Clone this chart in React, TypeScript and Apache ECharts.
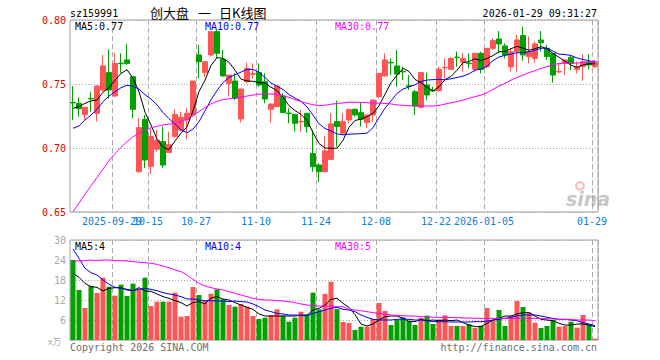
import { useEffect, useRef } from "react";
import * as echarts from "echarts";

const dates = [
  "2025-09-18","2025-09-19","2025-09-22","2025-09-23","2025-09-24","2025-09-25","2025-09-26","2025-09-29","2025-09-30",
  "2025-10-09","2025-10-10","2025-10-13","2025-10-14","2025-10-15","2025-10-16","2025-10-17","2025-10-20","2025-10-21","2025-10-22","2025-10-23","2025-10-24","2025-10-27","2025-10-28","2025-10-29","2025-10-30","2025-10-31",
  "2025-11-03","2025-11-04","2025-11-05","2025-11-06","2025-11-07","2025-11-10","2025-11-11","2025-11-12","2025-11-13","2025-11-14","2025-11-17","2025-11-18","2025-11-19","2025-11-20","2025-11-21","2025-11-24","2025-11-25","2025-11-26","2025-11-27","2025-11-28",
  "2025-12-01","2025-12-02","2025-12-03","2025-12-04","2025-12-05","2025-12-08","2025-12-09","2025-12-10","2025-12-11","2025-12-12","2025-12-15","2025-12-16","2025-12-17","2025-12-18","2025-12-19","2025-12-22","2025-12-23","2025-12-24","2025-12-25","2025-12-26","2025-12-29","2025-12-30","2025-12-31",
  "2026-01-05","2026-01-06","2026-01-07","2026-01-08","2026-01-09","2026-01-12","2026-01-13","2026-01-14","2026-01-15","2026-01-16","2026-01-19","2026-01-20","2026-01-21","2026-01-22","2026-01-23","2026-01-26","2026-01-27","2026-01-28","2026-01-29",
];

const opens = [
  0.7356,0.7349,0.7260,0.7387,0.7271,0.7453,0.7589,0.7406,0.7663,0.7688,
  0.7557,0.6815,0.7224,0.6857,0.6990,0.7050,0.6965,0.7089,0.7140,0.7219,
  0.7258,0.7727,0.7589,0.7727,0.7909,0.7693,0.7505,0.7523,0.7227,0.7518,
  0.7576,0.7589,0.7518,0.7302,0.7323,0.7406,0.7273,0.7263,0.7204,0.7271,
  0.6958,0.6867,0.6815,0.6911,0.7206,0.7115,0.7219,0.7302,0.7276,0.7198,
  0.7258,0.7401,0.7563,0.7669,0.7641,0.7598,0.7486,0.7440,0.7318,0.7492,
  0.7450,0.7448,0.7626,0.7615,0.7710,0.7667,0.7663,0.7615,0.7740,0.7635,
  0.7779,0.7852,0.7797,0.7635,0.7753,0.7878,0.7714,0.7700,0.7844,0.7779,
  0.7740,0.7594,0.7667,0.7708,0.7615,0.7635,0.7674,0.7635,
];
const closes = [
  0.7352,0.7307,0.7318,0.7383,0.7484,0.7641,0.7453,0.7661,0.7659,0.7661,
  0.7302,0.7159,0.6906,0.7090,0.7060,0.6867,0.7026,0.7263,0.7240,0.7271,
  0.7523,0.7674,0.7674,0.7909,0.7740,0.7563,0.7570,0.7388,0.7461,0.7622,
  0.7580,0.7492,0.7383,0.7344,0.7484,0.7276,0.7269,0.7193,0.7208,0.7167,
  0.6854,0.6815,0.6977,0.7188,0.7167,0.7206,0.7302,0.7258,0.7224,0.7258,
  0.7375,0.7583,0.7688,0.7665,0.7578,0.7594,0.7482,0.7328,0.7589,0.7414,
  0.7446,0.7615,0.7630,0.7700,0.7706,0.7700,0.7659,0.7740,0.7615,0.7779,
  0.7839,0.7813,0.7727,0.7753,0.7844,0.7727,0.7753,0.7813,0.7823,0.7714,
  0.7570,0.7598,0.7688,0.7661,0.7630,0.7674,0.7648,0.7674,
];
const highs = [
  0.7484,0.7396,0.7318,0.7440,0.7490,0.7727,0.7771,0.7740,0.7740,0.7813,
  0.7557,0.7232,0.7258,0.7150,0.7141,0.7167,0.7128,0.7302,0.7284,0.7310,
  0.7523,0.7805,0.7674,0.7909,0.7922,0.7766,0.7570,0.7583,0.7461,0.7667,
  0.7661,0.7661,0.7583,0.7344,0.7484,0.7427,0.7310,0.7263,0.7297,0.7271,
  0.7141,0.6880,0.7094,0.7271,0.7370,0.7271,0.7302,0.7310,0.7354,0.7258,
  0.7375,0.7583,0.7740,0.7700,0.7766,0.7635,0.7570,0.7453,0.7596,0.7589,
  0.7479,0.7635,0.7700,0.7708,0.7753,0.7740,0.7740,0.7740,0.7753,0.7779,
  0.7857,0.7914,0.7818,0.7779,0.7883,0.7948,0.7870,0.7831,0.7914,0.7805,
  0.7740,0.7661,0.7688,0.7719,0.7674,0.7734,0.7732,0.7688,
];
const lows = [
  0.7219,0.7245,0.7220,0.7284,0.7206,0.7440,0.7388,0.7401,0.7583,0.7648,
  0.7232,0.6807,0.6845,0.6800,0.6971,0.6841,0.6960,0.7083,0.7128,0.7068,
  0.7245,0.7544,0.7557,0.7714,0.7700,0.7557,0.7400,0.7375,0.7200,0.7505,
  0.7544,0.7479,0.7349,0.7198,0.7318,0.7271,0.7193,0.7128,0.7128,0.7120,
  0.6815,0.6737,0.6810,0.6906,0.7010,0.7102,0.7193,0.7245,0.7167,0.7154,
  0.7206,0.7388,0.7557,0.7570,0.7479,0.7531,0.7453,0.7258,0.7310,0.7375,
  0.7440,0.7440,0.7544,0.7610,0.7635,0.7596,0.7622,0.7596,0.7583,0.7622,
  0.7766,0.7740,0.7700,0.7596,0.7596,0.7682,0.7661,0.7667,0.7753,0.7688,
  0.7510,0.7583,0.7570,0.7609,0.7583,0.7526,0.7615,0.7622,
];
const ma5 = [
  0.7310,0.7323,0.7349,0.7367,0.7375,0.7435,0.7470,0.7530,0.7582,0.7612,
  0.7545,0.7440,0.7280,0.7180,0.7070,0.7005,0.6988,0.7055,0.7115,0.7165,
  0.7290,0.7440,0.7530,0.7645,0.7706,0.7700,0.7670,0.7608,0.7538,0.7524,
  0.7521,0.7511,0.7506,0.7475,0.7448,0.7398,0.7330,0.7292,0.7263,0.7215,
  0.7120,0.7035,0.7000,0.6998,0.6998,0.7060,0.7161,0.7215,0.7225,0.7245,
  0.7270,0.7330,0.7420,0.7510,0.7568,0.7622,0.7598,0.7536,0.7510,0.7474,
  0.7446,0.7478,0.7535,0.7559,0.7608,0.7666,0.7676,0.7697,0.7683,0.7700,
  0.7722,0.7752,0.7754,0.7776,0.7794,0.7780,0.7764,0.7775,0.7792,0.7776,
  0.7738,0.7709,0.7677,0.7647,0.7630,0.7649,0.7658,0.7657,
];
const ma10 = [
  0.7154,0.7172,0.7219,0.7258,0.7302,0.7362,0.7406,0.7440,0.7471,0.7490,
  0.7483,0.7460,0.7416,0.7382,0.7338,0.7277,0.7229,0.7186,0.7142,0.7119,
  0.7148,0.7205,0.7290,0.7376,0.7449,0.7510,0.7553,0.7572,0.7593,0.7614,
  0.7614,0.7592,0.7551,0.7507,0.7484,0.7457,0.7418,0.7390,0.7365,0.7321,
  0.7256,0.7190,0.7153,0.7132,0.7110,0.7103,0.7108,0.7110,0.7112,0.7116,
  0.7159,0.7237,0.7311,0.7368,0.7427,0.7460,0.7478,0.7494,0.7520,0.7531,
  0.7534,0.7536,0.7533,0.7541,0.7551,0.7562,0.7579,0.7608,0.7616,0.7640,
  0.7683,0.7711,0.7724,0.7734,0.7744,0.7745,0.7752,0.7763,0.7779,0.7780,
  0.7757,0.7733,0.7730,0.7723,0.7703,0.7692,0.7682,0.7670,
];
const ma30 = [
  0.6502,0.6570,0.6640,0.6705,0.6770,0.6835,0.6900,0.6955,0.7005,0.7050,
  0.7088,0.7118,0.7140,0.7158,0.7170,0.7180,0.7187,0.7193,0.7205,0.7225,
  0.7255,0.7285,0.7315,0.7345,0.7365,0.7378,0.7385,0.7390,0.7396,0.7406,
  0.7414,0.7420,0.7422,0.7422,0.7417,0.7409,0.7396,0.7378,0.7362,0.7349,
  0.7338,0.7330,0.7334,0.7342,0.7348,0.7353,0.7357,0.7358,0.7356,0.7354,
  0.7352,0.7350,0.7348,0.7344,0.7337,0.7333,0.7330,0.7328,0.7328,0.7328,
  0.7328,0.7333,0.7343,0.7354,0.7362,0.7375,0.7388,0.7401,0.7414,0.7432,
  0.7458,0.7485,0.7505,0.7531,0.7552,0.7570,0.7589,0.7604,0.7622,0.7635,
  0.7652,0.7660,0.7662,0.7663,0.7664,0.7667,0.7672,0.7682,
];
const volumes = [
  24,15,9.6,16.2,14.1,18.7,16,13.3,16.6,13.2,
  16.9,15,18.7,10.2,11.5,11.5,11.5,14.2,7,7.2,
  15.9,13.5,11.7,13.9,15.2,12.2,10.5,10,10.8,10,
  7.2,6.3,6.7,7.5,9.2,7.3,5.5,6.7,8.5,7.7,
  14.2,9.2,13.8,17.5,9.3,5.4,5.1,3,4,4,
  6.3,11.1,8.7,4.5,6,6.8,5.8,4.5,6.6,7.3,
  4.8,6.2,7.4,4.2,4.2,4.2,4.7,3.6,4.3,9.6,
  6,9,4.2,7.2,11.7,9.9,8.3,5.2,3.6,4.2,
  6,4,4.2,5.5,3.7,7.5,4.7,0.4,
];
const volMa5 = [
  20,18.8,17,16,15.8,14.7,15.5,15.7,15.7,15,
  14.8,15.7,14.7,14.6,13.8,13,12.5,11.8,11.2,10.2,
  11.2,11.5,10.8,12.6,13,12.3,12,11.2,10.5,9.8,
  9.2,7.8,7.2,7.2,7.2,7.2,7.2,7.2,7.5,7.4,
  9,9.5,10.5,12.2,12.5,11,9.8,7.6,4.8,4.2,
  4.8,6,7,7.2,7.2,6.5,5.5,5.5,6.2,5.8,
  6,5.8,6,5.8,6,5.2,4.5,4,4,5,
  6,6.5,7.2,7.2,7.8,8.2,8.2,7.2,6.2,6,
  5.8,5,4.5,4.5,4.8,4.8,4.5,4,
];
const volMa10 = [
  27.3,24.5,21.5,20.2,19.5,18,16.7,15.8,15.5,15.2,
  14.8,15.2,15.5,15.2,14.8,14.2,13.8,13.5,13,12.3,
  12.3,12,11.8,11.8,11.7,11.7,11.5,11.7,11.5,11.4,
  10.8,10,9,8.5,8,7.8,7.5,7.5,7.3,7.3,
  8,8.5,9,9.5,9.8,9.2,9,8.5,7.5,6.8,
  6.2,6,6,6,6.2,6.3,6.2,6,6,5.8,
  5.5,5.5,5.5,5.4,5.4,5.4,5.4,5.5,5.5,5.7,
  6,6.2,6.5,6.8,7.2,7.5,7.5,7.5,7.2,6.8,
  6.5,6.2,6.2,6,5.8,5.2,4.8,4.3,
];
const volMa30 = [
  23.7,23.7,23.8,24,23.8,24,24,23.8,23.8,23.7,
  23.5,23.3,23.2,23,22.7,22.2,21.7,21,20.5,19.5,
  18.2,17,16.2,15.7,15.3,15,14.5,14,13.5,13,
  12.5,12.2,12,12,11.8,11.7,11.5,11.2,10.8,10.5,
  10.3,10.2,10.2,10.2,10,10,9.2,9,8.8,8.5,
  8.2,8,7.8,7.5,7.4,7.3,7.2,7.2,7,7,
  6.8,6.8,6.8,6.7,6.7,6.6,6.6,6.5,6.5,6.5,
  6.5,6.5,6.5,6.5,6.5,6.5,6.5,6.5,6.4,6.4,
  6.3,6.2,6.2,6.2,6,6,6,5.8,
];

const tickDates = ["2025-09-29","2025-10-15","2025-10-27","2025-11-10","2025-11-24","2025-12-08","2025-12-22","2026-01-05","2026-01-29"];
const tickTexts = ["2025-09-29","10-15","10-27","11-10","11-24","12-08","12-22","2026-01-05","01-29"];

const UP = "#ff5555";
const DOWN = "#00a000";
const MONO = "'DejaVu Sans Mono', 'Liberation Mono', monospace";
const CJK = "'Noto Sans CJK SC', sans-serif";
const GRIDLINE = "#aaaaaa";

function txt(x: number, y: number, text: string, fill: string, font: string, align = "left") {
  return {
    type: "text",
    x,
    y,
    silent: true,
    z: 100,
    style: { text, fill, font, align, textAlign: align, verticalAlign: "middle", textVerticalAlign: "middle" },
  };
}

export default function App() {
  const ref = useRef<HTMLDivElement>(null);
  useEffect(() => {
    if (!ref.current) return;
    const chart = echarts.init(ref.current, undefined, { renderer: "svg" });
    const tickIdx = (i: number) => tickDates.indexOf(dates[i]);
    const isTick = (i: number) => tickIdx(i) >= 0;
    const splitV = {
      show: true,
      interval: (i: number) => isTick(i),
      lineStyle: { color: GRIDLINE, type: [5, 3], width: 1 },
    };
    const labelBase = {
      formatter: (v: string) => tickTexts[tickDates.indexOf(v)] ?? "",
      color: "#0a7fd6",
      fontFamily: MONO,
      fontSize: 10,
      margin: 4,
      padding: [0, 6, 0, 0],
      hideOverlap: false,
    };
    const n = dates.length;
    const option: any = {
      animation: false,
      backgroundColor: "#ffffff",
      grid: [
        { left: 70, right: 62, top: 20, height: 192, show: true, borderColor: "#a0a0a0", borderWidth: 1, backgroundColor: "transparent" },
        { left: 70, right: 62, top: 240, height: 100, show: true, borderColor: "#a0a0a0", borderWidth: 1, backgroundColor: "transparent" },
      ],
      xAxis: [
        {
          type: "category",
          gridIndex: 0,
          data: dates,
          boundaryGap: true,
          position: "bottom",
          axisLine: { show: false },
          axisTick: { show: false },
          axisLabel: { ...labelBase, interval: (i: number) => tickIdx(i) > 0 },
          splitLine: splitV,
        },
        {
          type: "category",
          gridIndex: 1,
          data: dates,
          boundaryGap: true,
          axisLine: { show: false },
          axisTick: { show: false },
          axisLabel: { show: false },
          splitLine: splitV,
        },
        {
          type: "category",
          gridIndex: 0,
          data: dates,
          boundaryGap: true,
          position: "bottom",
          offset: 0,
          axisLine: { show: false },
          axisTick: { show: false },
          axisLabel: { ...labelBase, interval: (i: number) => tickIdx(i) === 0 },
          splitLine: { show: false },
          z: 1,
        },
      ],
      yAxis: [
        {
          type: "value",
          gridIndex: 0,
          min: 0.65,
          max: 0.8,
          interval: 0.05,
          axisLine: { show: false },
          axisTick: { show: false },
          axisLabel: { color: "#e00000", fontFamily: MONO, fontSize: 10, margin: 4, formatter: (v: number) => v.toFixed(2) },
          splitLine: { show: true, lineStyle: { color: GRIDLINE, type: [1, 2] } },
        },
        {
          type: "value",
          gridIndex: 1,
          min: 0,
          max: 30,
          interval: 6,
          axisLine: { show: false },
          axisTick: { show: false },
          axisLabel: { color: "#a8a8a8", fontFamily: MONO, fontSize: 10, margin: 4, formatter: (v: number) => (v === 0 ? "" : String(v)) },
          splitLine: { show: true, lineStyle: { color: GRIDLINE, type: [1, 2] } },
        },
      ],
      series: [
        {
          type: "candlestick",
          xAxisIndex: 0,
          yAxisIndex: 0,
          barWidth: 5,
          data: dates.map((_, i) => [opens[i], closes[i], lows[i], highs[i]]),
          itemStyle: { color: UP, color0: DOWN, borderColor: UP, borderColor0: DOWN, borderWidth: 1 },
          z: 2,
        },
        { type: "line", xAxisIndex: 0, yAxisIndex: 0, data: ma5, symbol: "none", lineStyle: { color: "#000000", width: 1 }, z: 3 },
        { type: "line", xAxisIndex: 0, yAxisIndex: 0, data: ma10, symbol: "none", lineStyle: { color: "#0000ff", width: 1 }, z: 3 },
        { type: "line", xAxisIndex: 0, yAxisIndex: 0, data: ma30, symbol: "none", lineStyle: { color: "#ff00ff", width: 1 }, z: 3 },
        {
          type: "bar",
          xAxisIndex: 1,
          yAxisIndex: 1,
          barWidth: 5,
          data: volumes,
          itemStyle: { color: (p: any) => (closes[p.dataIndex] >= opens[p.dataIndex] ? UP : DOWN) },
          z: 2,
        },
        { type: "line", xAxisIndex: 1, yAxisIndex: 1, data: volMa5, symbol: "none", lineStyle: { color: "#000000", width: 1 }, z: 3 },
        { type: "line", xAxisIndex: 1, yAxisIndex: 1, data: volMa10, symbol: "none", lineStyle: { color: "#0000ff", width: 1 }, z: 3 },
        { type: "line", xAxisIndex: 1, yAxisIndex: 1, data: volMa30, symbol: "none", lineStyle: { color: "#ff00ff", width: 1 }, z: 3 },
      ],
      graphic: [
        txt(70, 13, "sz159991", "#000", `10px ${MONO}`),
        txt(150, 12, "创大盘", "#000", `13px ${CJK}`),
        txt(198, 12, "一", "#000", `13px ${CJK}`),
        txt(219, 12, "日K线图", "#000", `13px ${CJK}`),
        txt(597, 13, "2026-01-29 09:31:27", "#000", `10px ${MONO}`, "right"),
        txt(75, 26, `MA5:${ma5[n - 1].toFixed(2)}`, "#000000", `10px ${MONO}`),
        txt(205, 26, `MA10:${ma10[n - 1].toFixed(2)}`, "#0000ff", `10px ${MONO}`),
        txt(335, 26, `MA30:${ma30[n - 1].toFixed(2)}`, "#ff00ff", `10px ${MONO}`),
        txt(75, 246, `MA5:${Math.round(volMa5[n - 1])}`, "#000000", `10px ${MONO}`),
        txt(205, 246, `MA10:${Math.round(volMa10[n - 1])}`, "#0000ff", `10px ${MONO}`),
        txt(335, 246, `MA30:${Math.floor(volMa30[n - 1])}`, "#ff00ff", `10px ${MONO}`),
        txt(48, 341, "x万", "#b0b0b0", `9px ${CJK}`),
        txt(70, 347, "Copyright 2026 SINA.COM", "#707070", `10px ${MONO}`),
        txt(597, 347, "http://finance.sina.com.cn", "#707070", `10px ${MONO}`, "right"),
        {
          type: "ring",
          shape: { cx: 580, cy: 186, r: 5, r0: 2.5 },
          style: { fill: "rgba(240,120,120,0.45)" },
          silent: true,
          z: 1,
        },
        txt(566, 199, "sina", "rgba(150,150,150,0.55)", `italic bold 19px 'DejaVu Sans', sans-serif`),
      ],
    };
    chart.setOption(option);
    return () => chart.dispose();
  }, []);
  return <div ref={ref} style={{ position: "fixed", left: 0, top: 0, width: 660, height: 360 }} />;
}
